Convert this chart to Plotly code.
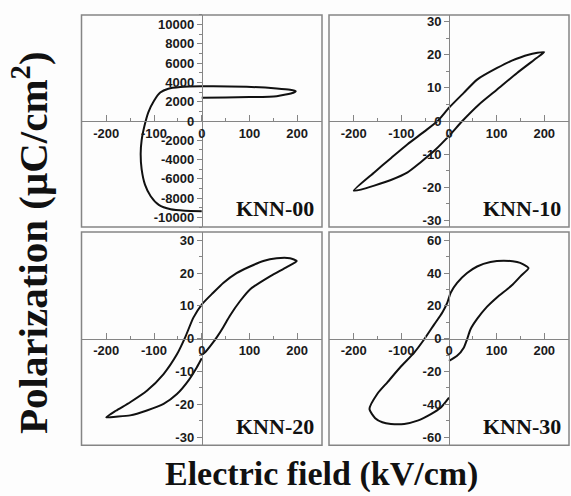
import plotly.graph_objects as go

# ---------------- data ----------------
E00 = [0, 50, 100, 157, 192, 197, 185, 157, 94, 0, -45, -70, -87, -100, -112, -120, -126, -128,
       -126, -119, -107, -90, -65, -35, 0]
P00 = [2410, 2430, 2480, 2580, 2930, 3100, 3250, 3380, 3550, 3600, 3520, 3350, 2950, 2100, 900,
       -500, -2000, -3400, -5000, -6600, -7800, -8700, -9150, -9300, -9350]

E10 = [0, 28, 63, 101, 143, 184, 200, 167, 132, 101, 59, 31, 0, -24, -52, -87, -122, -157, -200,
       -185, -157, -122, -87, -60, -31, 0]
P10 = [-4.5, 0, 5, 9.5, 14.5, 19, 20.8, 20, 18.2, 16, 12.5, 8.5, 4, 0, -3.2, -7, -11.2, -15.5, -21,
       -20.7, -19.5, -17.8, -15.5, -12.5, -9, -4.5]

E20 = [0, 7, 21, 31, 45, 59, 80, 101, 143, 178, 199, 185, 157, 129, 101, 73, 45, 24, 0, -17.5, -35,
       -52, -80, -115, -150, -180, -200, -180, -150, -115, -80, -52, -28, -10.5, 0]
P20 = [-5, -4.2, -1.7, 0.3, 3.5, 7, 11.4, 15, 19, 21.8, 23.7, 24.5, 24.5, 23.7, 22, 20, 17, 14, 10.4,
       6.4, 0.3, -4.8, -10.8, -15.9, -19.4, -22, -24, -23.8, -23.4, -21.9, -19.9, -16.9, -12.8, -8.8, -6]

E30 = [0, 17, 31, 38, 45, 59, 80, 100, 132, 150, 167, 155, 143, 115, 87, 59, 38, 17, 3.5, -3.5, -14,
       -31, -52, -73, -101, -129, -150, -167, -155, -140, -122, -94, -66, -38, -17, 0]
P30 = [-13.6, -10.5, -5.5, -0.4, 5.6, 12, 19.5, 25, 32.5, 38, 43, 45.5, 46.7, 47.5, 46.7, 44, 40, 34,
       28, 22, 16, 8.7, -0.4, -8.5, -17, -26.5, -33.5, -43, -48.5, -51, -52, -52, -50, -46, -42, -36]

SAMPLES = ["KNN-00", "KNN-10", "KNN-20", "KNN-30"]

X_TICKS = [-200, -100, 0, 100, 200]
X_LABELS = ["-200", "-100", "0", "100", "200"]
Y00_TICKS = [-10000, -8000, -6000, -4000, -2000, 0, 2000, 4000, 6000, 8000, 10000]
Y00_LABELS = ["-10000", "-8000", "-6000", "-4000", "-2000", "0", "2000", "4000", "6000", "8000", "10000"]
Y30_TICKS = [-30, -20, -10, 0, 10, 20, 30]
Y30_LABELS = ["-30", "-20", "-10", "0", "10", "20", "30"]
Y60_TICKS = [-60, -40, -20, 0, 20, 40, 60]
Y60_LABELS = ["-60", "-40", "-20", "0", "20", "40", "60"]

X_TITLE = "Electric field (kV/cm)"
Y_TITLE = "Polarization (\u03bcC/cm<sup>2</sup>)"

# ---------------- layout helpers ----------------
W, H = 571, 496
XL = [81.5 / W, 322 / W]
XR = [329 / W, 569 / W]
YT = [1 - 227 / H, 1 - 14 / H]
YB = [1 - 446 / H, 1 - 232 / H]

GRAY = "#858585"
TICKFONT = dict(family="Liberation Sans, Arial, sans-serif", size=13, color="#1a1a1a", weight="bold")
SERIF = "Liberation Serif, Times New Roman, serif"

panels = [
    (E00, P00, XL, YT, [-11000, 11000], Y00_TICKS, Y00_LABELS, 1000),
    (E10, P10, XR, YT, [-32, 32], Y30_TICKS, Y30_LABELS, 5),
    (E20, P20, XL, YB, [-32.5, 32.5], Y30_TICKS, Y30_LABELS, 5),
    (E30, P30, XR, YB, [-65, 65], Y60_TICKS, Y60_LABELS, 10),
]

fig = go.Figure()
layout = dict(
    width=W, height=H,
    margin=dict(l=0, r=0, t=0, b=0),
    paper_bgcolor="#fdfdfd", plot_bgcolor="#fdfdfd",
    showlegend=False,
    shapes=[], annotations=[],
)

for i, (ex, py, xd, yd, yr, yt, yl, ymin) in enumerate(panels):
    n = "" if i == 0 else str(i + 1)
    fig.add_trace(go.Scatter(
        x=ex, y=py, mode="lines", xaxis="x" + n, yaxis="y" + n,
        line=dict(color="#111111", width=2, shape="spline", smoothing=0.6),
        hoverinfo="skip",
    ))
    layout["xaxis" + n] = dict(
        domain=xd, range=[-252, 252], anchor="free", position=(yd[0] + yd[1]) / 2,
        showline=True, linecolor=GRAY, linewidth=1, zeroline=False, showgrid=False,
        ticks="inside", ticklen=6, tickwidth=1, tickcolor=GRAY,
        tickvals=X_TICKS, ticktext=X_LABELS, tickfont=TICKFONT,
        minor=dict(ticks="inside", ticklen=3, tickcolor=GRAY, dtick=50, tick0=0, showgrid=False),
        fixedrange=True,
    )
    layout["yaxis" + n] = dict(
        domain=yd, range=yr, anchor="free", position=(xd[0] + xd[1]) / 2,
        showline=True, linecolor=GRAY, linewidth=1, zeroline=False, showgrid=False,
        ticks="outside", ticklen=5, tickwidth=1, tickcolor=GRAY,
        tickvals=yt, ticktext=yl, tickfont=TICKFONT, ticklabelstandoff=0,
        minor=dict(ticks="outside", ticklen=3, tickcolor=GRAY, dtick=ymin, tick0=0, showgrid=False),
        fixedrange=True,
    )
    layout["shapes"].append(dict(
        type="rect", xref="x" + n + " domain", yref="y" + n + " domain",
        x0=0, x1=1, y0=0, y1=1, line=dict(color=GRAY, width=1.5), layer="above",
    ))
    layout["annotations"].append(dict(
        text=SAMPLES[i], xref="x" + n + " domain", yref="y" + n + " domain",
        x=0.975, y=0.02, xanchor="right", yanchor="bottom", showarrow=False,
        font=dict(family=SERIF, size=22, color="#111111", weight="bold"),
    ))

layout["annotations"].append(dict(
    text=X_TITLE, xref="paper", yref="paper", x=321.5 / W, y=1 - 475 / H,
    xanchor="center", yanchor="middle", showarrow=False,
    font=dict(family=SERIF, size=34, color="#111111", weight="bold"),
))
layout["annotations"].append(dict(
    text=Y_TITLE, xref="paper", yref="paper", x=30 / W, y=1 - 243 / H, textangle=-90,
    xanchor="center", yanchor="middle", showarrow=False,
    font=dict(family=SERIF, size=41, color="#111111", weight="bold"),
))

fig.update_layout(**layout)
fig.write_html(
    "out.html",
    config={"displayModeBar": False},
    post_script="document.body.style.margin='0';document.body.style.overflow='hidden';",
)
